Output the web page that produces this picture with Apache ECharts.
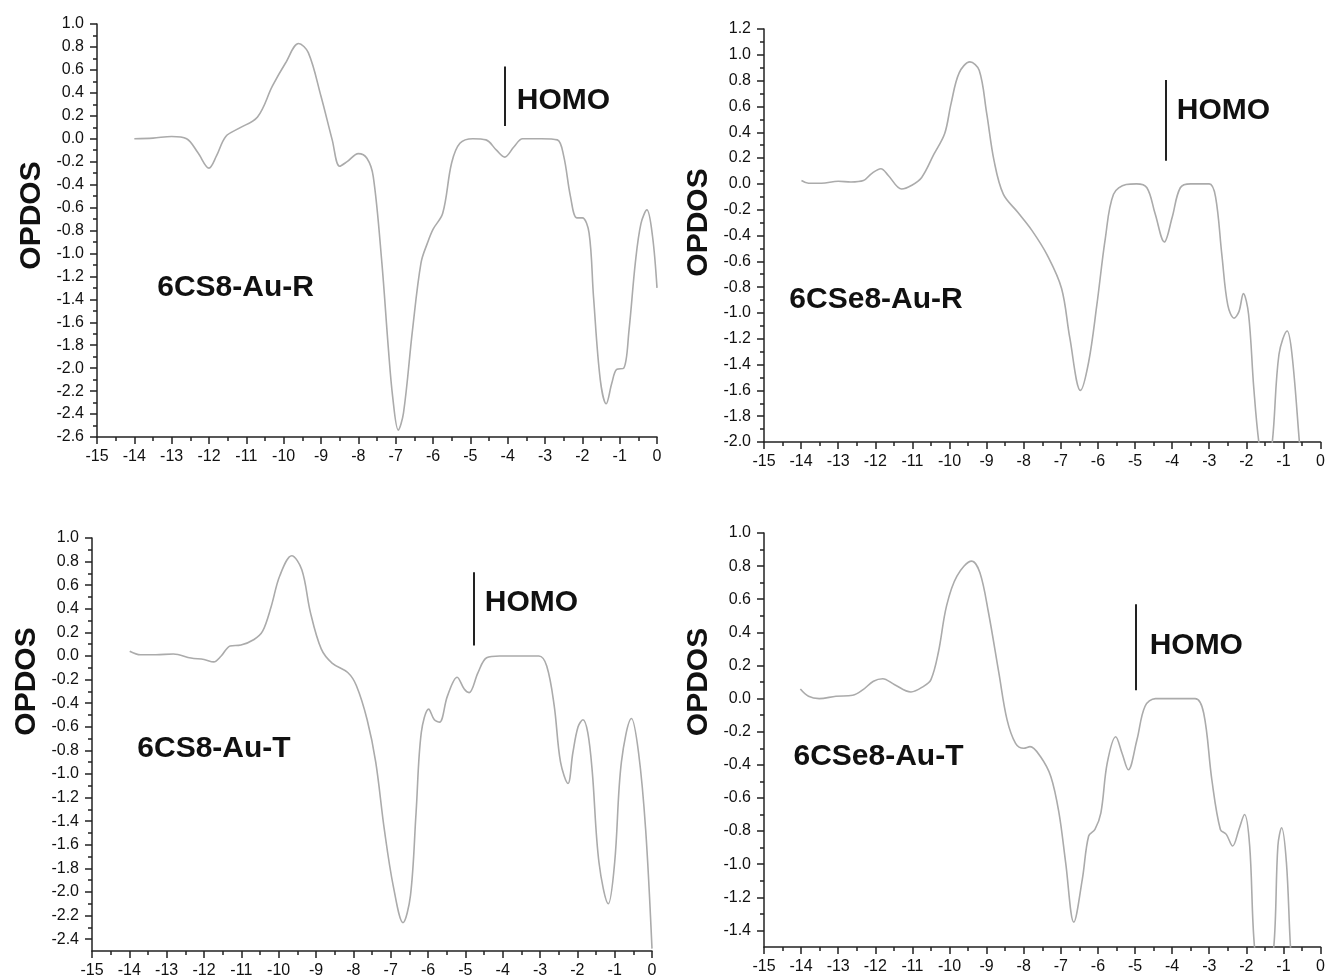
<!DOCTYPE html>
<html>
<head>
<meta charset="utf-8">
<script src="https://cdn.jsdelivr.net/npm/echarts@6/dist/echarts.min.js"></script>
<style>
html,body{margin:0;padding:0;background:#fff;}
#c{width:1328px;height:979px;}
</style>
</head>
<body>
<div id="c"></div>
<script>
// ---- data (energy eV, OPDOS) ----
const s8R = [[-14,0.0],[-13.5,0.005],[-13,0.02],[-12.6,0.0],[-12.3,-0.12],[-12.0,-0.256],[-11.8,-0.15],[-11.55,0.02],[-11.2,0.09],[-10.7,0.19],[-10.3,0.46],[-9.95,0.66],[-9.6,0.83],[-9.34,0.75],[-9.0,0.37],[-8.7,-0.01],[-8.5,-0.24],[-8.3,-0.2],[-8.0,-0.13],[-7.77,-0.17],[-7.6,-0.33],[-7.37,-1.08],[-7.2,-1.81],[-7.08,-2.25],[-6.93,-2.54],[-6.79,-2.39],[-6.55,-1.67],[-6.32,-1.08],[-6.15,-0.91],[-6.0,-0.79],[-5.74,-0.65],[-5.5,-0.21],[-5.28,-0.04],[-4.93,0.0],[-4.58,-0.01],[-4.3,-0.1],[-4.08,-0.16],[-3.83,-0.07],[-3.6,0.0],[-3.1,0.0],[-2.67,-0.01],[-2.5,-0.15],[-2.32,-0.5],[-2.15,-0.69],[-2.0,-0.69],[-1.82,-0.82],[-1.7,-1.38],[-1.52,-2.1],[-1.36,-2.31],[-1.21,-2.13],[-1.08,-2.01],[-0.89,-2.0],[-0.75,-1.67],[-0.58,-1.08],[-0.43,-0.74],[-0.27,-0.62],[-0.12,-0.85],[0.0,-1.3]];
const se8R = [[-13.99,0.026],[-13.8,0.005],[-13.45,0.005],[-13.0,0.02],[-12.66,0.015],[-12.32,0.026],[-12.1,0.08],[-11.85,0.117],[-11.65,0.065],[-11.29,-0.04],[-11.03,-0.013],[-10.75,0.05],[-10.42,0.23],[-10.13,0.39],[-9.96,0.62],[-9.74,0.86],[-9.45,0.945],[-9.2,0.88],[-9.0,0.55],[-8.8,0.18],[-8.55,-0.08],[-8.16,-0.22],[-7.78,-0.36],[-7.37,-0.55],[-6.98,-0.81],[-6.76,-1.19],[-6.47,-1.6],[-6.25,-1.38],[-6.03,-0.94],[-5.8,-0.42],[-5.58,-0.08],[-5.24,-0.005],[-4.96,0.0],[-4.68,-0.03],[-4.46,-0.23],[-4.21,-0.45],[-4.0,-0.26],[-3.78,-0.03],[-3.5,0.0],[-3.0,0.0],[-2.83,-0.1],[-2.66,-0.55],[-2.5,-0.94],[-2.33,-1.04],[-2.2,-0.99],[-2.08,-0.85],[-1.94,-1.01],[-1.8,-1.58],[-1.66,-2.01],[-1.48,-2.3],[-1.3,-2.0],[-1.12,-1.32],[-0.9,-1.14],[-0.77,-1.32],[-0.57,-2.0],[-0.4,-2.6]];
const s8T = [[-13.99,0.04],[-13.7,0.01],[-13.29,0.01],[-12.82,0.017],[-12.35,-0.017],[-12.0,-0.03],[-11.74,-0.05],[-11.54,0.0],[-11.3,0.085],[-11.01,0.093],[-10.66,0.14],[-10.43,0.21],[-10.2,0.42],[-9.97,0.68],[-9.65,0.85],[-9.38,0.73],[-9.15,0.37],[-8.86,0.06],[-8.57,-0.06],[-8.15,-0.14],[-7.92,-0.25],[-7.63,-0.54],[-7.4,-0.9],[-7.17,-1.47],[-6.93,-1.95],[-6.67,-2.26],[-6.47,-2.03],[-6.32,-1.33],[-6.18,-0.65],[-5.98,-0.45],[-5.83,-0.54],[-5.69,-0.56],[-5.48,-0.34],[-5.22,-0.18],[-5.03,-0.28],[-4.9,-0.31],[-4.66,-0.14],[-4.43,-0.015],[-4.08,0.0],[-3.5,0.0],[-3.03,0.0],[-2.82,-0.085],[-2.62,-0.42],[-2.45,-0.9],[-2.25,-1.08],[-2.12,-0.82],[-1.98,-0.6],[-1.85,-0.54],[-1.72,-0.65],[-1.6,-0.98],[-1.42,-1.75],[-1.17,-2.1],[-1.0,-1.75],[-0.82,-0.9],[-0.55,-0.53],[-0.36,-0.82],[-0.17,-1.47],[0.0,-2.48]];
const se8T = [[-14.02,0.058],[-13.8,0.014],[-13.51,0.0],[-13.06,0.014],[-12.61,0.02],[-12.33,0.054],[-12.05,0.105],[-11.8,0.12],[-11.49,0.085],[-11.04,0.04],[-10.7,0.074],[-10.5,0.115],[-10.3,0.28],[-10.08,0.56],[-9.8,0.74],[-9.4,0.83],[-9.18,0.76],[-8.95,0.52],[-8.67,0.155],[-8.45,-0.127],[-8.22,-0.27],[-8.0,-0.3],[-7.83,-0.29],[-7.55,-0.35],[-7.27,-0.47],[-7.05,-0.69],[-6.87,-0.99],[-6.65,-1.35],[-6.42,-1.09],[-6.25,-0.83],[-6.08,-0.79],[-5.92,-0.69],[-5.75,-0.39],[-5.52,-0.23],[-5.35,-0.33],[-5.18,-0.43],[-4.95,-0.25],[-4.73,-0.046],[-4.45,0.0],[-3.9,0.0],[-3.38,0.0],[-3.15,-0.087],[-2.93,-0.49],[-2.7,-0.79],[-2.54,-0.82],[-2.37,-0.89],[-2.2,-0.79],[-2.05,-0.7],[-1.91,-0.89],[-1.78,-1.5],[-1.52,-1.9],[-1.26,-1.5],[-1.15,-0.89],[-1.05,-0.78],[-0.92,-0.99],[-0.81,-1.5],[-0.65,-2.0]];

// HOMO marker: [energy, lineBottom, lineTop], label anchor [x, y]
const homoS8R = [-4.08, 0.11, 0.63];   const homoTextS8R = [-3.77, 0.33];
const homoSe8R = [-4.17, 0.18, 0.805]; const homoTextSe8R = [-3.89, 0.57];
const homoS8T = [-4.78, 0.09, 0.71];   const homoTextS8T = [-4.49, 0.45];
const homoSe8T = [-4.99, 0.05, 0.57];  const homoTextSe8T = [-4.62, 0.32];

const names = ['6CS8-Au-R', '6CSe8-Au-R', '6CS8-Au-T', '6CSe8-Au-T'];
const nameAnchors = [[-13.4, -1.30], [-14.33, -0.896], [-13.8, -0.79], [-14.22, -0.35]];

// tick labels
const xMin = -15, xMax = 0;
const yTicksS8R = [1.0,0.8,0.6,0.4,0.2,0.0,-0.2,-0.4,-0.6,-0.8,-1.0,-1.2,-1.4,-1.6,-1.8,-2.0,-2.2,-2.4,-2.6];
const yMinorS8R = [0.9,0.7,0.5,0.3,0.1,-0.1,-0.3,-0.5,-0.7,-0.9,-1.1,-1.3,-1.5,-1.7,-1.9,-2.1,-2.3,-2.5];
const yTicksSe8R = [1.2,1.0,0.8,0.6,0.4,0.2,0.0,-0.2,-0.4,-0.6,-0.8,-1.0,-1.2,-1.4,-1.6,-1.8,-2.0];
const yMinorSe8R = [1.1,0.9,0.7,0.5,0.3,0.1,-0.1,-0.3,-0.5,-0.7,-0.9,-1.1,-1.3,-1.5,-1.7,-1.9];
const yTicksS8T = [1.0,0.8,0.6,0.4,0.2,0.0,-0.2,-0.4,-0.6,-0.8,-1.0,-1.2,-1.4,-1.6,-1.8,-2.0,-2.2,-2.4];
const yMinorS8T = [0.9,0.7,0.5,0.3,0.1,-0.1,-0.3,-0.5,-0.7,-0.9,-1.1,-1.3,-1.5,-1.7,-1.9,-2.1,-2.3];
const yTicksSe8T = [1.0,0.8,0.6,0.4,0.2,0.0,-0.2,-0.4,-0.6,-0.8,-1.0,-1.2,-1.4];
const yMinorSe8T = [0.9,0.7,0.5,0.3,0.1,-0.1,-0.3,-0.5,-0.7,-0.9,-1.1,-1.3];
const yRanges = [[-2.6, 1.0], [-2.0, 1.2], [-2.5, 1.0], [-1.5, 1.0]];

// ---- layout / style ----
const grids = [
  {left: 97, top: 24, width: 560, height: 413},
  {left: 764, top: 29, width: 559, height: 413},
  {left: 92, top: 538, width: 560, height: 413},
  {left: 764, top: 533, width: 560, height: 414}
];
const namePads = [30, 26, 126, 116];
const FONT = 'Liberation Sans, Arial, sans-serif';
const AX = '#222';
const curveColor = '#ababab';

const panels = [
  {data: s8R, homo: homoS8R, homoText: homoTextS8R, maj: yTicksS8R, min: yMinorS8R},
  {data: se8R, homo: homoSe8R, homoText: homoTextSe8R, maj: yTicksSe8R, min: yMinorSe8R},
  {data: s8T, homo: homoS8T, homoText: homoTextS8T, maj: yTicksS8T, min: yMinorS8T},
  {data: se8T, homo: homoSe8T, homoText: homoTextSe8T, maj: yTicksSe8T, min: yMinorSe8T}
];

const option = {animation: false, backgroundColor: '#fff', grid: [], xAxis: [], yAxis: [], series: []};

// main grids 0..3
panels.forEach((p, i) => {
  option.grid.push(Object.assign({containLabel: false}, grids[i]));
  option.xAxis.push({
    type: 'value', gridIndex: i, min: xMin, max: xMax, interval: 1,
    axisLine: {show: true, onZero: false, lineStyle: {color: AX, width: 1.5}},
    axisTick: {show: true, inside: false, length: 7, lineStyle: {color: AX, width: 1.5}},
    minorTick: {show: true, splitNumber: 2, length: 4, lineStyle: {color: AX, width: 1.5}},
    axisLabel: {show: true, margin: 12, fontSize: 16, color: '#111', fontFamily: FONT, formatter: v => String(v)},
    splitLine: {show: false}, minorSplitLine: {show: false}
  });
  option.yAxis.push({
    type: 'value', gridIndex: i, min: yRanges[i][0], max: yRanges[i][1], position: 'left',
    name: 'OPDOS', nameLocation: 'middle', nameGap: 50,
    nameTextStyle: {fontSize: 30, fontWeight: 'bold', color: '#111', fontFamily: FONT, padding: [0, 0, 0, namePads[i]]},
    axisLine: {show: true, onZero: false, lineStyle: {color: AX, width: 1.5}},
    axisTick: {show: true, inside: false, length: 7, customValues: p.maj, lineStyle: {color: AX, width: 1.5}},
    axisLabel: {show: true, margin: 13, fontSize: 16, color: '#111', fontFamily: FONT, customValues: p.maj, formatter: v => v.toFixed(1)},
    splitLine: {show: false}
  });
});
// overlay grids 4..7 carry only the minor y ticks
panels.forEach((p, i) => {
  option.grid.push(Object.assign({containLabel: false}, grids[i]));
  option.xAxis.push({type: 'value', gridIndex: 4 + i, min: xMin, max: xMax, show: false,
    axisLine: {show: false, onZero: false}});
  option.yAxis.push({
    type: 'value', gridIndex: 4 + i, min: yRanges[i][0], max: yRanges[i][1], position: 'left',
    axisLine: {show: false, onZero: false},
    axisTick: {show: true, inside: false, length: 4, customValues: p.min, lineStyle: {color: AX, width: 1.5}},
    axisLabel: {show: false},
    splitLine: {show: false}
  });
});

panels.forEach((p, i) => {
  option.series.push({
    type: 'line', xAxisIndex: i, yAxisIndex: i, data: p.data, showSymbol: false,
    smooth: 0.35, clip: true, silent: true,
    lineStyle: {color: curveColor, width: 1.6},
    markLine: {
      silent: true, symbol: ['none', 'none'], label: {show: false},
      lineStyle: {color: '#222', width: 2, type: 'solid'},
      data: [[{coord: [p.homo[0], p.homo[1]]}, {coord: [p.homo[0], p.homo[2]]}]]
    }
  });
  option.series.push({
    type: 'scatter', xAxisIndex: i, yAxisIndex: i, silent: true, symbolSize: 1,
    itemStyle: {color: 'rgba(0,0,0,0)', opacity: 1},
    data: [{value: p.homoText, name: 'HOMO'}, {value: nameAnchors[i], name: names[i]}],
    label: {show: true, position: 'right', distance: 0, formatter: '{b}',
      fontSize: 30, fontWeight: 'bold', color: '#111', fontFamily: FONT}
  });
});

const chart = echarts.init(document.getElementById('c'), null, {renderer: 'canvas'});
chart.setOption(option);
</script>
</body>
</html>
